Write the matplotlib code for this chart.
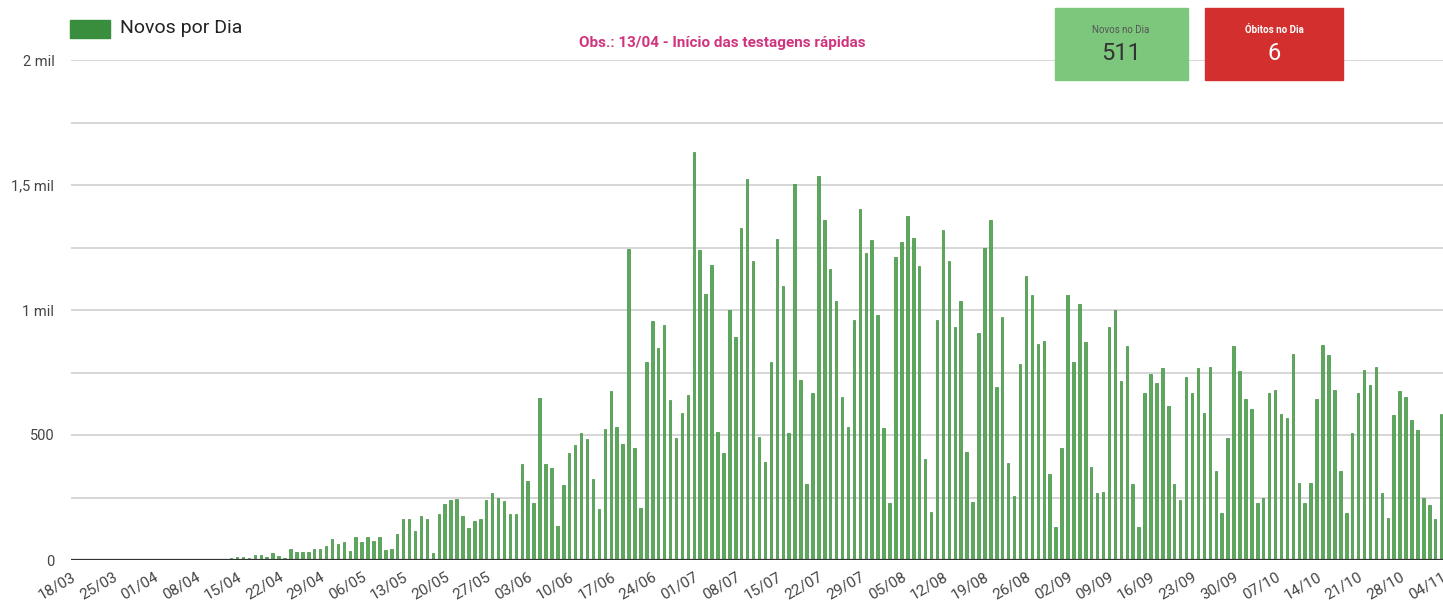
import matplotlib.pyplot as plt
from matplotlib.patches import Rectangle
from matplotlib.ticker import MultipleLocator

plt.rcParams['font.family'] = ['Roboto', 'DejaVu Sans']

# casos novos por dia, um valor por dia a partir de 18/03
novos_por_dia = [
    0,
    0, 0, 1, 0, 1, 0, 0, 1, 0, 1, 0, 2, 1, 0, 1, 1, 2, 0, 1, 2, 3, 4, 1, 2,
    2, 3, 7, 13, 13, 8, 20, 20, 11, 27, 16, 8, 45, 32, 32, 32, 43, 43, 57, 85, 63, 74, 38, 92,
    71, 93, 78, 93, 42, 46, 106, 164, 164, 118, 175, 164, 29, 184, 225, 240, 245, 175, 130, 155,
    165, 240, 270, 250, 235, 185, 185,
    383, 316, 229, 649, 383, 369, 136, 300, 429, 459, 509, 483, 323, 203, 523, 676, 533, 463,
    1243, 447, 207, 793, 956, 849, 939, 639, 489,
    590, 661, 1634, 1242, 1066, 1182, 514, 428, 999, 891, 1329, 1523, 1196, 494, 394, 791, 1283,
    1096, 508, 1506, 721, 305, 668, 1536, 1359, 1166, 1038,
    651, 534, 962, 1405, 1229, 1279, 979, 528, 227, 1213, 1272, 1376, 1289, 1178, 403, 194, 961,
    1319, 1196, 931, 1035, 432, 234, 908, 1249, 1359, 691,
    973, 387, 257, 786, 1136, 1059, 866, 878, 345, 134, 450, 1059, 791, 1025, 872, 374, 270, 274,
    931, 999, 715, 855, 305, 134, 668, 744, 708,
    768, 615, 305, 240, 731, 668, 768, 590, 772, 357, 187, 488, 855, 755, 644, 604, 227, 250,
    668, 679, 584, 568, 824, 310, 230, 310, 644,
    862, 819, 679, 357, 187, 508, 668, 762, 701, 772, 267, 170, 581, 675, 651, 561, 521, 250,
    220, 163, 585,
]

# rotulos semanais do eixo x
date_labels = [
    '18/03', '25/03', '01/04', '08/04', '15/04', '22/04', '29/04', '06/05', '13/05',
    '20/05', '27/05', '03/06', '10/06', '17/06', '24/06', '01/07', '08/07', '15/07',
    '22/07', '29/07', '05/08', '12/08', '19/08', '26/08', '02/09', '09/09', '16/09',
    '23/09', '30/09', '07/10', '14/10', '21/10', '28/10', '04/11',
]

y_ticks = [0, 500, 1000, 1500, 2000]
y_labels = ['0', '500', '1 mil', '1,5 mil', '2 mil']

legend_label = 'Novos por Dia'
obs_text = 'Obs.: 13/04 - Início das testagens rápidas'
novos_no_dia = '511'
obitos_no_dia = '6'

W, H = 1443, 610
fig = plt.figure(figsize=(W / 100, H / 100), dpi=100)
ax = fig.add_axes([71 / W, 50 / H, (W - 71) / W, 500 / H])

days = list(range(len(novos_por_dia)))
ax.bar(days, novos_por_dia, width=0.42, color='#5ca85c', edgecolor='#3f8f3f',
       linewidth=0.5, zorder=3)

ax.set_xlim(0.1, 0.1 + (W - 71) / 5.934)
ax.set_ylim(0, 2000)

ax.set_yticks(y_ticks)
ax.set_yticklabels(y_labels, fontsize=10.5, color='#444444')
ax.yaxis.set_minor_locator(MultipleLocator(250))
ax.grid(axis='y', which='both', color='#d0d0d0', linewidth=1.2, zorder=0)
ax.tick_params(axis='y', which='both', length=0, pad=12)

ax.set_xticks([i * 7 for i in range(len(date_labels))])
ax.set_xticklabels(date_labels, rotation=30, ha='right', rotation_mode='anchor',
                   fontsize=11, color='#444444')
ax.tick_params(axis='x', length=0, pad=7)
for lbl in ax.get_xticklabels():
    lbl.set_x(lbl.get_position()[0])

for s in ax.spines.values():
    s.set_visible(False)
ax.axhline(0, color='#333333', linewidth=1.6, zorder=4)

# legenda
fig.patches.append(Rectangle((70 / W, (H - 38) / H), 40 / W, 18 / H,
                             transform=fig.transFigure, color='#388e3c'))
fig.text(120 / W, (H - 28) / H, legend_label, fontsize=14, color='#222222', va='center')

fig.text(722 / W, (H - 43) / H, obs_text, fontsize=11, color='#d0347f',
         fontweight='bold', ha='center', va='center')

# caixas de resumo
fig.patches.append(Rectangle((1055 / W, (H - 80) / H), 133 / W, 72 / H,
                             transform=fig.transFigure, color='#7dc77d', zorder=5))
fig.text(1121 / W, (H - 30) / H, 'Novos no Dia', fontsize=7, color='#555555',
         ha='center', va='center', zorder=6)
fig.text(1121 / W, (H - 53) / H, novos_no_dia, fontsize=17, color='#333333',
         ha='center', va='center', zorder=6)

fig.patches.append(Rectangle((1205 / W, (H - 80) / H), 138 / W, 72 / H,
                             transform=fig.transFigure, color='#d32f2f', zorder=5))
fig.text(1274 / W, (H - 30) / H, 'Óbitos no Dia', fontsize=7, color='white',
         fontweight='bold', ha='center', va='center', zorder=6)
fig.text(1274 / W, (H - 53) / H, obitos_no_dia, fontsize=17, color='white',
         ha='center', va='center', zorder=6)

fig.savefig('out.png', dpi=100)
